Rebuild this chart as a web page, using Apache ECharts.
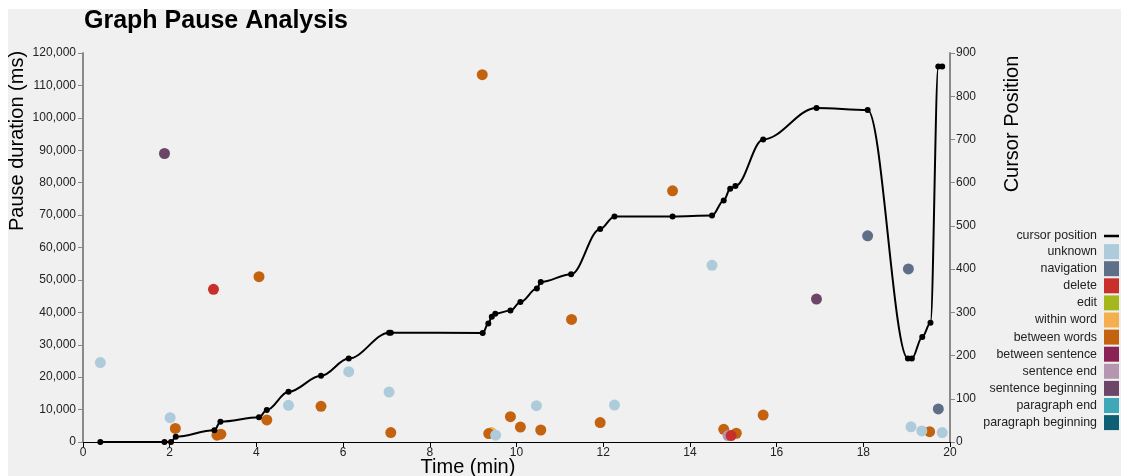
<!DOCTYPE html>
<html>
<head>
<meta charset="utf-8">
<script src="https://cdn.jsdelivr.net/npm/echarts@6/dist/echarts.min.js"></script>
<style>
html,body{margin:0;padding:0;background:#fff;}
#chart{width:1124px;height:476px;}
</style>
</head>
<body>
<div id="chart"></div>
<script>
// Cursor position line (time in min, position)
var cursorTime = [0.4, 1.88, 2.03, 2.14, 3.03, 3.17, 4.06, 4.24, 4.74, 5.49, 6.13, 7.06, 7.10, 9.22, 9.35, 9.43, 9.51, 9.86, 10.09, 10.47, 10.56, 11.26, 11.93, 12.26, 13.6, 14.51, 14.78, 14.93, 15.05, 15.69, 16.92, 18.1, 19.03, 19.12, 19.36, 19.55, 19.73, 19.82];
var cursorPos  = [0, 0, 0, 12, 27, 47, 57, 74, 116, 153, 193, 253, 253, 252, 274, 290, 297, 304, 324, 355, 370, 388, 493, 522, 522, 524, 559, 586, 592, 700, 773, 768, 193, 193, 243, 276, 869, 869];

// Pauses: [time (min), duration (ms)]
var unknown = [[0.4, 24500], [2.01, 7500], [4.74, 11300], [6.13, 21700], [7.06, 15400], [9.52, 2100], [10.46, 11200], [12.26, 11400], [14.51, 54500], [19.1, 4700], [19.35, 3400], [19.82, 2900]];
var navigation = [[18.1, 63600], [19.04, 53400], [19.73, 10200]];
var deletes = [[3.01, 47100], [14.95, 2000]];
var edit = [];
var withinWord = [[9.42, 2900]];
var betweenWords = [[2.13, 4200], [3.09, 2100], [3.18, 2400], [4.06, 51000], [4.24, 6800], [5.49, 11000], [7.10, 2900], [9.21, 113300], [9.36, 2600], [9.86, 7800], [10.09, 4600], [10.56, 3700], [11.27, 37800], [11.93, 6000], [13.6, 77500], [14.78, 3900], [15.07, 2700], [15.69, 8300], [19.53, 3200]];
var betweenSentence = [];
var sentenceEnd = [[14.88, 2000]];
var sentenceBeginning = [[1.88, 89000], [16.92, 44100]];
var paragraphEnd = [];
var paragraphBeginning = [];

var xTicks = {min: 0, max: 20, interval: 2};
var yLeftTicks = {min: 0, max: 120000, interval: 10000};
var yRightTicks = {min: 0, max: 900, interval: 100};

// [name, data, colour]
var categories = [
  ['unknown', unknown, '#aecbdc'],
  ['navigation', navigation, '#5e6f87'],
  ['delete', deletes, '#c9302c'],
  ['edit', edit, '#a4b81e'],
  ['within word', withinWord, '#f4b04f'],
  ['between words', betweenWords, '#c4630f'],
  ['between sentence', betweenSentence, '#8b2255'],
  ['sentence end', sentenceEnd, '#b596b0'],
  ['sentence beginning', sentenceBeginning, '#6b4668'],
  ['paragraph end', paragraphEnd, '#3fa7b7'],
  ['paragraph beginning', paragraphBeginning, '#0f5f74']
];

var lineData = cursorTime.map(function (t, i) { return [t, cursorPos[i]]; });

var series = categories.map(function (c) {
  return {
    name: c[0], type: 'scatter', yAxisIndex: 0,
    data: c[1], symbolSize: 11,
    itemStyle: {color: c[2], opacity: 1},
    emphasis: {disabled: true}, z: 2
  };
});
series[0].z = 3;
series[2].z = 3;
series.push({
  name: 'cursor position', type: 'line', yAxisIndex: 1,
  data: lineData, smooth: 0.35, smoothMonotone: 'x',
  symbol: 'circle', symbolSize: 6, showSymbol: true,
  lineStyle: {color: '#000', width: 2},
  itemStyle: {color: '#000'},
  emphasis: {disabled: true}, z: 4
});

var legendData = [{name: 'cursor position', icon: 'path://M0,0 L15,0 L15,2.5 L0,2.5 Z', itemStyle: {color: '#000'}}]
  .concat(categories.map(function (c) { return {name: c[0], icon: 'rect'}; }));

var font = 'Liberation Sans, Arial, sans-serif';
var chart = echarts.init(document.getElementById('chart'), null, {renderer: 'canvas'});
chart.setOption({
  animation: false,
  backgroundColor: 'transparent',
  textStyle: {fontFamily: font},
  title: {
    text: 'Graph Pause Analysis', left: 79, top: 4,
    textStyle: {fontSize: 25, fontWeight: 'bold', color: '#000', fontFamily: font}
  },
  graphic: [
    {type: 'rect', shape: {x: 8, y: 9, width: 1113, height: 467}, style: {fill: '#f0f0f0'}, z: -10, silent: true},
    {type: 'text', x: 17, y: 141, rotation: Math.PI / 2,
      style: {text: 'Pause duration (ms)', font: '20px ' + font, fill: '#000', align: 'center', verticalAlign: 'middle'}},
    {type: 'text', x: 1012, y: 124, rotation: Math.PI / 2,
      style: {text: 'Cursor Position', font: '20px ' + font, fill: '#000', align: 'center', verticalAlign: 'middle'}},
    {type: 'text', x: 468, y: 467,
      style: {text: 'Time (min)', font: '20px ' + font, fill: '#000', align: 'center', verticalAlign: 'middle'}}
  ],
  legend: {
    orient: 'vertical', right: 5, top: 230, align: 'right', padding: 0,
    itemWidth: 15, itemHeight: 15, itemGap: 2.1,
    data: legendData,
    selectedMode: false,
    textStyle: {fontSize: 12.4, color: '#222', fontFamily: font, padding: [0, 2, 0, 0]}
  },
  grid: {left: 83, right: 174, top: 53, bottom: 34, containLabel: false},
  xAxis: {
    type: 'value', min: xTicks.min, max: xTicks.max, interval: xTicks.interval,
    axisLine: {onZero: false, lineStyle: {color: '#000', width: 1}},
    axisTick: {show: true, length: 5, lineStyle: {color: '#000'}},
    axisLabel: {fontSize: 12, color: '#222', margin: 5},
    splitLine: {show: false}
  },
  yAxis: [{
    type: 'value', min: yLeftTicks.min, max: yLeftTicks.max, interval: yLeftTicks.interval,
    axisLine: {show: true, lineStyle: {color: '#8a8a8a', width: 2}},
    axisTick: {show: true, length: 5, lineStyle: {color: '#8a8a8a'}},
    axisLabel: {fontSize: 12, color: '#222', margin: 7,
      formatter: function (v) { return v.toLocaleString('en-US'); }},
    splitLine: {show: false}
  }, {
    type: 'value', min: yRightTicks.min, max: yRightTicks.max, interval: yRightTicks.interval,
    position: 'right',
    axisLine: {show: true, lineStyle: {color: '#8a8a8a', width: 2}},
    axisTick: {show: true, length: 5, lineStyle: {color: '#8a8a8a'}},
    axisLabel: {fontSize: 12, color: '#222', margin: 6},
    splitLine: {show: false}
  }],
  series: series
});
</script>
</body>
</html>
